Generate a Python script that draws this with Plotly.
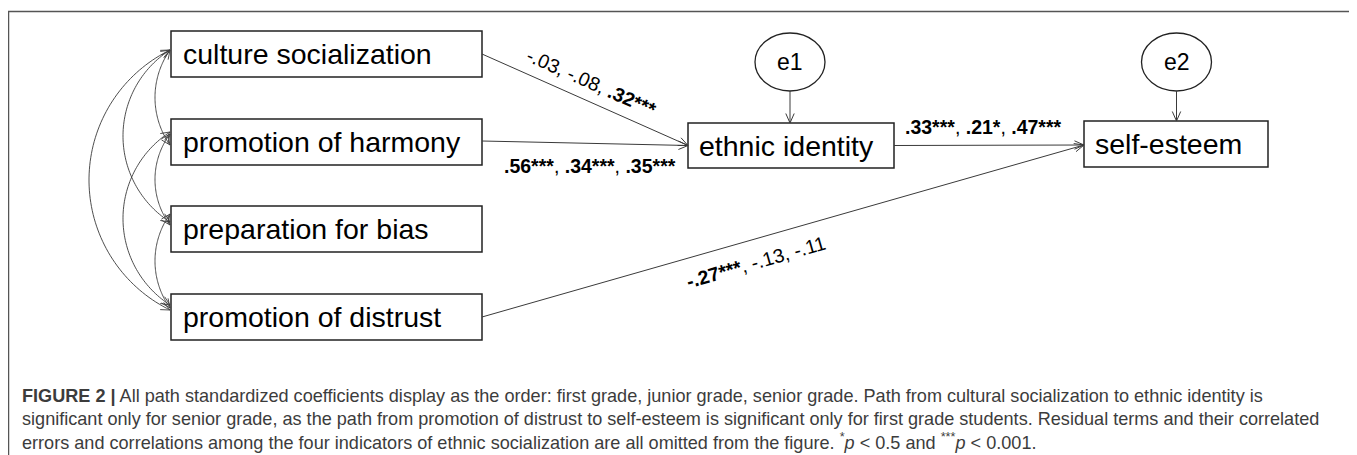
import numpy as np
import plotly.graph_objects as go

# ---------------- data ----------------
indicators = ["culture socialization", "promotion of harmony",
              "preparation for bias", "promotion of distrust"]
mediator = "ethnic identity"
outcome = "self-esteem"
residuals = ["e1", "e2"]

# coefficients: first grade, junior grade, senior grade
coef_cs_ei = ["-.03", "-.08", ".32"]
sig_cs_ei = ["", "", "***"]
coef_ph_ei = [".56", ".34", ".35"]
sig_ph_ei = ["***", "***", "***"]
coef_ei_se = [".33", ".21", ".47"]
sig_ei_se = ["***", "*", "***"]
coef_pd_se = ["-.27", "-.13", "-.11"]
sig_pd_se = ["***", "", ""]

caption_lines = [
    "<b>FIGURE 2 |</b> All path standardized coefficients display as the order: first grade, junior grade, senior grade. Path from cultural socialization to ethnic identity is",
    "significant only for senior grade, as the path from promotion of distrust to self-esteem is significant only for first grade students. Residual terms and their correlated",
    "errors and correlations among the four indicators of ethnic socialization are all omitted from the figure. <sup>*</sup><i>p</i> &lt; 0.5 and <sup>***</sup><i>p</i> &lt; 0.001.",
]

# ---------------- layout geometry (page pixels) ----------------
W, H = 1357, 455
PAGE_MARGIN = 8  # default body margin of the html page
LEFT_BOX = dict(x0=171, x1=482)
LEFT_TOPS = [31, 119, 206, 294]
BOX_H = 46
EI_BOX = dict(x0=688, x1=894, y0=123, y1=168)
SE_BOX = dict(x0=1084, x1=1268, y0=121, y1=167)
E1 = dict(cx=790, cy=62, rx=35, ry=29)
E2 = dict(cx=1176.5, cy=62, rx=35, ry=29)
LINE_C = "#3a3a3a"
BOX_C = "#222222"
FONT = "Liberation Sans, Arial, sans-serif"

# correlation arcs: (i, j, y_at_i, y_at_j, leftmost x)
ARCS = [(0, 1, 50, 145, 155), (1, 2, 134, 225, 155), (2, 3, 214, 308, 155),
        (0, 2, 50, 222, 123), (1, 3, 132, 305, 123), (0, 3, 50, 310, 89)]
ARC_X = 170

shapes = []
annotations = []


def head(tip, d, L=9.5, w=4.2):
    d = np.asarray(d, float)
    d = d / np.hypot(*d)
    n = np.array([-d[1], d[0]])
    t = np.asarray(tip, float)
    p1 = t - L * d + w * n
    p2 = t - L * d - w * n
    return f"M{p1[0]:.2f},{p1[1]:.2f} L{t[0]:.2f},{t[1]:.2f} L{p2[0]:.2f},{p2[1]:.2f}"


def arrow(p0, p1, width=1):
    shapes.append(dict(type="line", x0=p0[0], y0=p0[1], x1=p1[0], y1=p1[1],
                       line=dict(color=LINE_C, width=width)))
    shapes.append(dict(type="path", path=head(p1, (p1[0] - p0[0], p1[1] - p0[1])),
                       line=dict(color=LINE_C, width=width)))


def label(vals, sigs):
    parts = []
    for v, s in zip(vals, sigs):
        parts.append(f"<b>{v}{s}</b>" if s else v)
    return ", ".join(parts)


# frame (left/top/right edges)
shapes.append(dict(type="path", path="M8.6,470 L8.6,11.5 L1351,11.5 L1351,470",
                   line=dict(color="#555555", width=1.3)))

# indicator boxes
for name, top in zip(indicators, LEFT_TOPS):
    shapes.append(dict(type="rect", x0=LEFT_BOX["x0"], x1=LEFT_BOX["x1"], y0=top, y1=top + BOX_H,
                       line=dict(color=BOX_C, width=1.5)))
    annotations.append(dict(x=LEFT_BOX["x0"] + 10, y=top + BOX_H / 2, text=name, showarrow=False,
                            xanchor="left", yanchor="middle",
                            font=dict(family=FONT, size=28.5, color="#000")))

for box, name in [(EI_BOX, mediator), (SE_BOX, outcome)]:
    shapes.append(dict(type="rect", x0=box["x0"], x1=box["x1"], y0=box["y0"], y1=box["y1"],
                       line=dict(color=BOX_C, width=1.5)))
    annotations.append(dict(x=box["x0"] + 9, y=(box["y0"] + box["y1"]) / 2, text=name, showarrow=False,
                            xanchor="left", yanchor="middle",
                            font=dict(family=FONT, size=28.5, color="#000")))

for e, name, box in [(E1, residuals[0], EI_BOX), (E2, residuals[1], SE_BOX)]:
    shapes.append(dict(type="circle", x0=e["cx"] - e["rx"], x1=e["cx"] + e["rx"],
                       y0=e["cy"] - e["ry"], y1=e["cy"] + e["ry"],
                       line=dict(color=BOX_C, width=1.3)))
    annotations.append(dict(x=e["cx"], y=e["cy"], text=name, showarrow=False,
                            xanchor="center", yanchor="middle",
                            font=dict(family=FONT, size=23, color="#000")))
    arrow((e["cx"], e["cy"] + e["ry"]), (e["cx"], box["y0"]))

# structural paths
mid = lambda top: top + BOX_H / 2
ei_mid = (EI_BOX["y0"] + EI_BOX["y1"]) / 2
se_mid = (SE_BOX["y0"] + SE_BOX["y1"]) / 2
arrow((LEFT_BOX["x1"], mid(LEFT_TOPS[0])), (EI_BOX["x0"], ei_mid))
arrow((LEFT_BOX["x1"], mid(LEFT_TOPS[1]) - 1), (EI_BOX["x0"], ei_mid))
arrow((EI_BOX["x1"], ei_mid), (SE_BOX["x0"], se_mid + 1))
arrow((LEFT_BOX["x1"], mid(LEFT_TOPS[3])), (SE_BOX["x0"], se_mid + 1))

# correlation arcs (circular, double-headed)
for i, j, ya, yb, xmin in ARCS:
    s = ARC_X - xmin
    h = (yb - ya) / 2
    R = (h * h + s * s) / (2 * s)
    cx, cy = xmin + R, (ya + yb) / 2
    pa = np.arctan2(ya - cy, ARC_X - cx) + 2 * np.pi
    pb = np.arctan2(yb - cy, ARC_X - cx)
    ph = np.linspace(pb, pa, 80)
    xs = cx + R * np.cos(ph)
    ys = cy + R * np.sin(ph)
    path = "M" + " L".join(f"{x:.2f},{y:.2f}" for x, y in zip(xs, ys))
    shapes.append(dict(type="path", path=path, line=dict(color=LINE_C, width=0.9)))
    da = (-np.sin(pa), np.cos(pa))
    db = (np.sin(pb), -np.cos(pb))
    shapes.append(dict(type="path", path=head((ARC_X, ya), da, 9, 4), line=dict(color=LINE_C, width=0.9)))
    shapes.append(dict(type="path", path=head((ARC_X, yb), db, 9, 4), line=dict(color=LINE_C, width=0.9)))

# path coefficient labels
lab_font = dict(family=FONT, size=19.5, color="#000")
ang1 = np.degrees(np.arctan2(ei_mid - mid(LEFT_TOPS[0]), EI_BOX["x0"] - LEFT_BOX["x1"]))
ang4 = np.degrees(np.arctan2(se_mid - mid(LEFT_TOPS[3]), SE_BOX["x0"] - LEFT_BOX["x1"]))
annotations += [
    dict(x=591, y=82, text=label(coef_cs_ei, sig_cs_ei), textangle=ang1, showarrow=False, font=lab_font),
    dict(x=590, y=166, text=label(coef_ph_ei, sig_ph_ei), showarrow=False, font=lab_font),
    dict(x=983, y=127, text=label(coef_ei_se, sig_ei_se), showarrow=False, font=lab_font),
    dict(x=756, y=262, text=label(coef_pd_se, sig_pd_se), textangle=ang4, showarrow=False, font=lab_font),
]

# caption
for k, line in enumerate(caption_lines):
    annotations.append(dict(x=20, y=396 + 22.5 * k, text=line, showarrow=False,
                            xanchor="left", yanchor="middle",
                            font=dict(family=FONT, size=18.1, color="#3c3c3c")))

# page has an 8px body margin: shift the figure so page pixels match the reference
fig = go.Figure()
fig.update_layout(
    width=W - PAGE_MARGIN, height=H - PAGE_MARGIN, margin=dict(l=0, r=0, t=0, b=0),
    paper_bgcolor="white", plot_bgcolor="white",
    xaxis=dict(range=[PAGE_MARGIN, W], visible=False, fixedrange=True),
    yaxis=dict(range=[H, PAGE_MARGIN], visible=False, fixedrange=True),
    shapes=shapes, annotations=annotations, showlegend=False,
)
fig.write_html("out.html")
